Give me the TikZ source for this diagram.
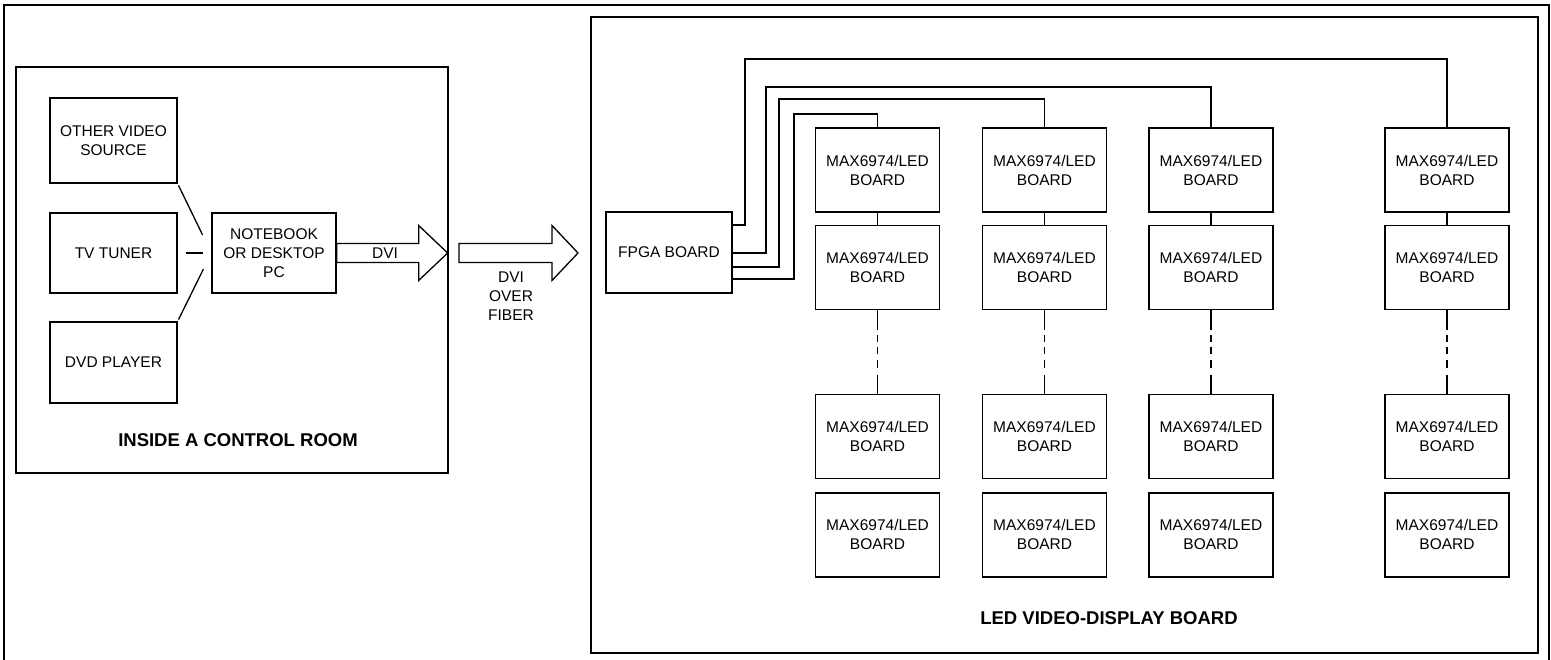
\documentclass[tikz,border=0pt]{standalone}
\usepackage{fontspec}
\setmainfont{Liberation Sans}
\usetikzlibrary{positioning, calc}

\begin{document}
\begin{tikzpicture}[x=1pt, y=-1pt,
        every node/.style = {font=\fontsize{15.5}{19}\selectfont, align=center, inner sep=0pt},
        unit/.style = {draw, line width=1.3pt, minimum width=124pt, minimum height=84pt},
        source/.style = {draw, line width=1.3pt, minimum width=127pt},
        room/.style = {draw, line width=2.6pt},
        roomlabel/.style = {font=\fontsize{18.5}{22}\selectfont\bfseries},
        link/.style = {line width=1.3pt},
        chain/.style = {line width=1.3pt, dash pattern=on 20pt off 5pt on 7pt off 5pt on 7pt off 6pt on 8pt off 7pt on 30pt},
        bigarrow/.style = {draw, line width=1.3pt, line join=miter}]
    \useasboundingbox (0,0) rectangle (1551,660);
    \draw[line width=1.5pt] (4,662) -- (4,5) -- (1549,5) -- (1549,662);

    % control room
    \node[room, minimum width=432pt, minimum height=406pt] (ctrl) at (232,270) {};
    \node[roomlabel] (ctrllabel) at (238,440) {INSIDE A CONTROL ROOM};

    \node[source, minimum height=85pt] (ov) at (113.5,140.5) {OTHER VIDEO\\SOURCE};
    \node[source, minimum height=80pt] (tv) at (113.5,253) {TV TUNER};
    \node[source, minimum height=81pt] (dvd) at (113.5,362.5) {DVD PLAYER};
    \node[draw, line width=1.3pt, minimum width=124pt, minimum height=80pt] (pc) at (274,253) {NOTEBOOK\\OR DESKTOP\\PC};

    \draw[link, shorten <=2pt, shorten >=20pt] (ov.south east) -- (pc.west);
    \draw[link, shorten <=8pt, shorten >=8pt] (tv.east) -- (pc.west);
    \draw[link, shorten <=2pt, shorten >=18pt] (dvd.north east) -- (pc.west);

    \draw[bigarrow] ($(pc.east)+(0,-9.5)$) -- ++(82,0) -- ++(0,-18) -- ++(29,27.5) -- ++(-29,27.5) -- ++(0,-18) -- ++(-82,0) -- cycle;
    \node (dvi) at (385,253) {DVI};

    \draw[bigarrow] (459,243.5) -- ++(93,0) -- ++(0,-18) -- ++(26,27.5) -- ++(-26,27.5) -- ++(0,-18) -- ++(-93,0) -- cycle;
    \node (fiber) at (511,296) {DVI\\OVER\\FIBER};

    % display board
    \node[room, minimum width=947pt, minimum height=636pt] (wall) at (1064.5,335) {};
    \node[roomlabel] (walllabel) at (1109,618) {LED VIDEO-DISPLAY BOARD};

    \node[draw, line width=1.3pt, minimum width=126pt, minimum height=81pt] (fpga) at (669,252.5) {FPGA BOARD};

    \node[unit] (b11) at (877.5,170) {MAX6974/LED\\BOARD};
    \node[unit, below = 12pt of b11] (b12) {MAX6974/LED\\BOARD};
    \node[unit, below = 84pt of b12] (b13) {MAX6974/LED\\BOARD};
    \node[unit, below = 13pt of b13] (b14) {MAX6974/LED\\BOARD};

    \node[unit] (b21) at (1044.5,170) {MAX6974/LED\\BOARD};
    \node[unit, below = 12pt of b21] (b22) {MAX6974/LED\\BOARD};
    \node[unit, below = 84pt of b22] (b23) {MAX6974/LED\\BOARD};
    \node[unit, below = 13pt of b23] (b24) {MAX6974/LED\\BOARD};

    \node[unit] (b31) at (1211,170) {MAX6974/LED\\BOARD};
    \node[unit, below = 12pt of b31] (b32) {MAX6974/LED\\BOARD};
    \node[unit, below = 84pt of b32] (b33) {MAX6974/LED\\BOARD};
    \node[unit, below = 13pt of b33] (b34) {MAX6974/LED\\BOARD};

    \node[unit] (b41) at (1447,170) {MAX6974/LED\\BOARD};
    \node[unit, below = 12pt of b41] (b42) {MAX6974/LED\\BOARD};
    \node[unit, below = 84pt of b42] (b43) {MAX6974/LED\\BOARD};
    \node[unit, below = 13pt of b43] (b44) {MAX6974/LED\\BOARD};

    \draw[link] ([yshift=27.5pt]fpga.east) -| (745,59) -| (b41.north);
    \draw[link] ([yshift=-0.5pt]fpga.east) -| (766,87) -| (b31.north);
    \draw[link] ([yshift=-14.5pt]fpga.east) -| (779,99) -| (b21.north);
    \draw[link] ([yshift=-26.5pt]fpga.east) -| (794,114) -| (b11.north);

    \draw[link] (b11) -- (b12);
    \draw[link] (b21) -- (b22);
    \draw[link] (b31) -- (b32);
    \draw[link] (b41) -- (b42);

    \draw[chain] (b12.south) -- (b13.north);
    \draw[chain] (b22.south) -- (b23.north);
    \draw[chain] (b32.south) -- (b33.north);
    \draw[chain] (b42.south) -- (b43.north);
\end{tikzpicture}
\end{document}
